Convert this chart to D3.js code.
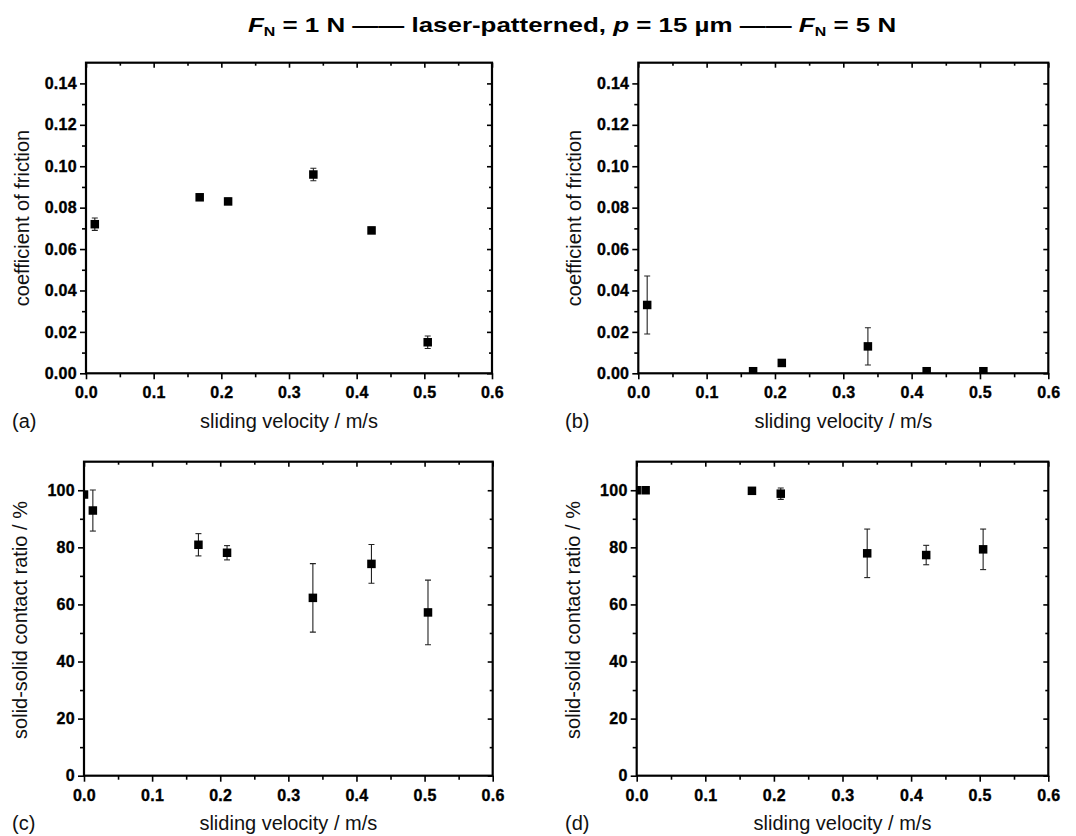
<!DOCTYPE html>
<html>
<head>
<meta charset="utf-8">
<script src="https://cdn.jsdelivr.net/npm/d3@7"></script>
<style>
  body { margin: 0; background: #fff; }
  svg { display: block; }
  text { font-family: "Liberation Sans", Arial, sans-serif; }
</style>
</head>
<body>
<div id="chart-area"></div>
<script>
// values
var velocity = [0.013, 0.168, 0.21, 0.336, 0.422, 0.505];
var cofLow = [0.072, 0.085, 0.083, 0.096, 0.069, 0.015];
var cofLowErr = [0.003, 0.0015, 0.0015, 0.003, 0.0015, 0.003];
var cofHigh = [0.033, 0.001, 0.005, 0.013, 0.001, 0.001];
var cofHighErr = [0.014, 0, 0, 0.009, 0, 0];

var velocityContact = [0, 0.013, 0.168, 0.21, 0.336, 0.422, 0.505];
var contactLow = [98.5, 92.9, 80.9, 78.1, 62.3, 74.2, 57.2];
var contactLowErr = [0, 7.2, 3.9, 2.5, 12, 6.8, 11.3];
var contactHigh = [100, 100, 99.8, 98.8, 77.9, 77.3, 79.3];
var contactHighErr = [0, 0, 0, 2, 8.5, 3.4, 7.1];

var xTicks = [0, 0.1, 0.2, 0.3, 0.4, 0.5, 0.6];
var xMinor = [0.05, 0.15, 0.25, 0.35, 0.45, 0.55];
var cofTicks = [0, 0.02, 0.04, 0.06, 0.08, 0.1, 0.12, 0.14];
var cofMinor = [0.01, 0.03, 0.05, 0.07, 0.09, 0.11, 0.13];
var contactTicks = [0, 20, 40, 60, 80, 100];
var contactMinor = [10, 30, 50, 70, 90];

var xTitle = "sliding velocity / m/s";

var svg = d3.select("#chart-area")
	.append("svg")
		.attr("width", 1076)
		.attr("height", 836);

// title (glyphs are stretched wide in the original)
var title = svg.append("text")
	.attr("transform", "translate(572,31.5) scale(1.33,1)")
	.attr("text-anchor", "middle")
	.attr("font-size", "19.5px")
	.attr("font-weight", "bold")
	.attr("fill", "#000");
title.append("tspan").attr("font-style", "italic").text("F");
title.append("tspan").attr("font-size", "12px").attr("dy", 4).text("N");
title.append("tspan").attr("dy", -4).text(" = 1 N —— laser-patterned, ");
title.append("tspan").attr("font-style", "italic").text("p");
title.append("tspan").text(" = 15 µm —— ");
title.append("tspan").attr("font-style", "italic").text("F");
title.append("tspan").attr("font-size", "12px").attr("dy", 4).text("N");
title.append("tspan").attr("dy", -4).text(" = 5 N");

var panels = [
	{id:"a", x:velocity, y:cofLow, err:cofLowErr, yMax:0.15, ticks:cofTicks, minor:cofMinor, fmt:".2f",
	 yTitle:"coefficient of friction", left:86, right:492, top:62.7, bottom:373.3, tag:12, ty:218},
	{id:"b", x:velocity, y:cofHigh, err:cofHighErr, yMax:0.15, ticks:cofTicks, minor:cofMinor, fmt:".2f",
	 yTitle:"coefficient of friction", left:638.3, right:1048.3, top:62.7, bottom:373.3, tag:565, ty:218},
	{id:"c", x:velocityContact, y:contactLow, err:contactLowErr, yMax:110, ticks:contactTicks, minor:contactMinor, fmt:"d",
	 yTitle:"solid-solid contact ratio / %", left:84, right:492.7, top:461.7, bottom:775.7, tag:12, ty:620},
	{id:"d", x:velocityContact, y:contactHigh, err:contactHighErr, yMax:110, ticks:contactTicks, minor:contactMinor, fmt:"d",
	 yTitle:"solid-solid contact ratio / %", left:636.7, right:1048.3, top:461.7, bottom:775.7, tag:565, ty:620}
];

panels.forEach(function(p){
	var w = p.right - p.left;
	var h = p.bottom - p.top;

	var x = d3.scaleLinear().domain([0, 0.6]).range([0, w]);
	var y = d3.scaleLinear().domain([0, p.yMax]).range([h, 0]);

	var g = svg.append("g")
		.attr("transform", "translate(" + p.left + "," + p.top + ")");

	g.append("clipPath")
		.attr("id", "clip-" + p.id)
		.append("rect")
			.attr("width", w)
			.attr("height", h);

	// bottom axis (ticks out)
	g.append("g")
		.attr("class", "x axis")
		.attr("transform", "translate(0," + h + ")")
		.call(d3.axisBottom(x).tickValues(xTicks).tickFormat(d3.format(".1f")).tickSizeInner(6).tickSizeOuter(0).tickPadding(7.5));
	g.append("g")
		.attr("transform", "translate(0," + h + ")")
		.call(d3.axisBottom(x).tickValues(xMinor).tickFormat("").tickSizeInner(4).tickSizeOuter(0));

	// left axis (ticks out)
	g.append("g")
		.attr("class", "y axis")
		.call(d3.axisLeft(y).tickValues(p.ticks).tickFormat(d3.format(p.fmt)).tickSizeInner(6).tickSizeOuter(0).tickPadding(3));
	g.append("g")
		.call(d3.axisLeft(y).tickValues(p.minor).tickFormat("").tickSizeInner(4).tickSizeOuter(0));

	// top and right mirror axes (ticks in)
	g.append("g")
		.call(d3.axisTop(x).tickValues(xTicks).tickFormat("").tickSizeInner(-5).tickSizeOuter(0));
	g.append("g")
		.call(d3.axisTop(x).tickValues(xMinor).tickFormat("").tickSizeInner(-3).tickSizeOuter(0));
	g.append("g")
		.attr("transform", "translate(" + w + ",0)")
		.call(d3.axisRight(y).tickValues(p.ticks).tickFormat("").tickSizeInner(-5).tickSizeOuter(0));
	g.append("g")
		.attr("transform", "translate(" + w + ",0)")
		.call(d3.axisRight(y).tickValues(p.minor).tickFormat("").tickSizeInner(-3).tickSizeOuter(0));

	g.selectAll(".domain").remove();
	g.selectAll(".tick line").attr("stroke", "#000").attr("stroke-width", 1.6);
	g.selectAll(".tick text")
		.attr("fill", "#000")
		.attr("stroke", "#000")
		.attr("stroke-width", 0.35)
		.attr("font-size", "16px")
		.attr("font-weight", "bold")
		.attr("letter-spacing", "0.3px")
		.attr("font-family", "'Liberation Sans', Arial, sans-serif");

	// frame
	g.append("rect")
		.attr("width", w)
		.attr("height", h)
		.attr("fill", "none")
		.attr("stroke", "#000")
		.attr("stroke-width", 2.2);

	var pts = p.x.map(function(v, i){ return {x:v, y:p.y[i], e:p.err[i]}; });

	var marks = g.append("g").attr("clip-path", "url(#clip-" + p.id + ")");

	// error bars
	var bars = marks.selectAll(".err")
		.data(pts.filter(function(d){ return d.e > 0; }))
		.enter().append("g")
			.attr("class", "err")
			.attr("stroke", "#222")
			.attr("stroke-width", 1.1);
	bars.append("line")
		.attr("x1", function(d){ return x(d.x); })
		.attr("x2", function(d){ return x(d.x); })
		.attr("y1", function(d){ return y(d.y - d.e); })
		.attr("y2", function(d){ return y(d.y + d.e); });
	bars.append("line")
		.attr("x1", function(d){ return x(d.x) - 3; })
		.attr("x2", function(d){ return x(d.x) + 3; })
		.attr("y1", function(d){ return y(d.y + d.e); })
		.attr("y2", function(d){ return y(d.y + d.e); });
	bars.append("line")
		.attr("x1", function(d){ return x(d.x) - 3; })
		.attr("x2", function(d){ return x(d.x) + 3; })
		.attr("y1", function(d){ return y(d.y - d.e); })
		.attr("y2", function(d){ return y(d.y - d.e); });

	// square markers
	marks.selectAll(".pt")
		.data(pts)
		.enter().append("rect")
			.attr("class", "pt")
			.attr("x", function(d){ return x(d.x) - 4.25; })
			.attr("y", function(d){ return y(d.y) - 4.25; })
			.attr("width", 8.5)
			.attr("height", 8.5)
			.attr("fill", "#000");

	// axis titles
	g.append("text")
		.attr("x", w / 2)
		.attr("y", h + 54.5)
		.attr("text-anchor", "middle")
		.attr("font-size", "20px")
		.attr("fill", "#111")
		.text(xTitle);

	svg.append("text")
		.attr("transform", "translate(" + (p.left - 57) + "," + p.ty + ") rotate(-90)")
		.attr("text-anchor", "middle")
		.attr("font-size", "20px")
		.attr("fill", "#111")
		.text(p.yTitle);

	svg.append("text")
		.attr("x", p.tag)
		.attr("y", p.bottom + 54.5)
		.attr("font-size", "20px")
		.attr("fill", "#111")
		.text("(" + p.id + ")");
});
</script>
</body>
</html>
